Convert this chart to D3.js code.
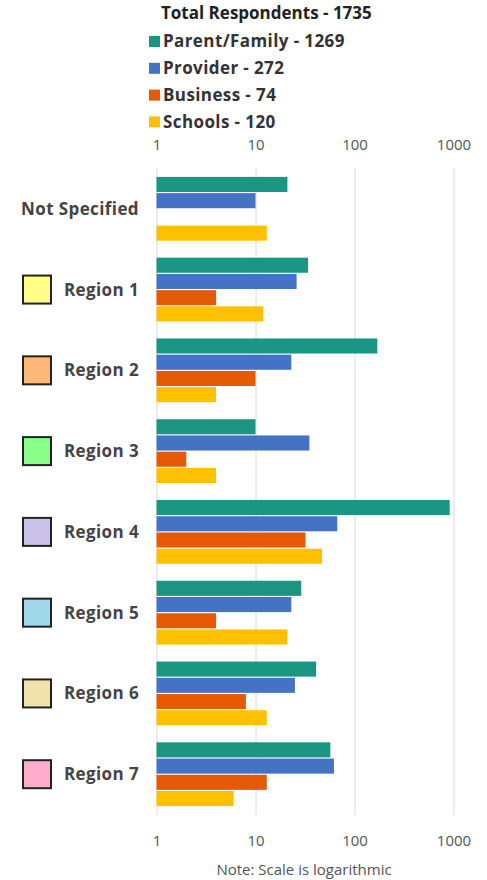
<!DOCTYPE html>
<html>
<head>
<meta charset="utf-8">
<script src="https://cdn.jsdelivr.net/npm/d3@7"></script>
<style>
    body { margin: 0; background: #fff; }
    svg text { font-family: "Open Sans", sans-serif; }
</style>
</head>
<body>
<div id="chart"></div>
<script>
// data (log scale, 1 = no bar)
var groups = ["Not Specified", "Region 1", "Region 2", "Region 3", "Region 4", "Region 5", "Region 6", "Region 7"];
var series = ["Parent/Family", "Provider", "Business", "Schools"];
var seriesTotals = [1269, 272, 74, 120];
var parentFamily = [21, 34, 170, 10, 915, 29, 41, 57];
var provider = [10, 26, 23, 35, 67, 23, 25, 62];
var business = [1, 4, 10, 2, 32, 4, 8, 13];
var schools = [13, 12, 4, 4, 47, 21, 13, 6];
var regionColors = [null, "#ffff88", "#ffb877", "#88ff88", "#cac2e8", "#a2d9ea", "#efe2ad", "#ffadcb"];
var tickValues = [1, 10, 100, 1000];
var totalLabel = "Total Respondents - 1735";
var noteLabel = "Note: Scale is logarithmic";

var seriesColors = ["#1a9682", "#4472c4", "#e65a06", "#ffc000"];
var values = [parentFamily, provider, business, schools];

var width = 487, height = 880;
var margin = {top: 168, right: 33, bottom: 65, left: 156.5};

var svg = d3.select("#chart").append("svg")
    .attr("width", width)
    .attr("height", height);

// log x scale
var x = d3.scaleLog()
    .domain([1, 1000])
    .range([margin.left, margin.left + 297]);

var y = d3.scaleBand()
    .domain(groups)
    .range([margin.top, height - margin.bottom])
    .paddingInner(0.21)
    .paddingOuter(0.11);

var ySub = d3.scaleBand()
    .domain(series)
    .range([0, y.bandwidth()])
    .paddingInner(0.07);

// gridlines
svg.append("g")
    .attr("class", "grid")
    .attr("transform", "translate(0," + margin.top + ")")
    .call(d3.axisBottom(x).tickValues(tickValues).tickSize(height - margin.bottom - margin.top).tickFormat(""))
    .call(function(g) {
        g.select(".domain").remove();
        g.selectAll("line").attr("stroke", "#dcdcdc").attr("stroke-width", 1);
    });

// top and bottom tick labels
function styleAxis(g) {
    g.select(".domain").remove();
    g.selectAll("line").remove();
    g.selectAll("text")
        .attr("fill", "#555")
        .style("font-size", "15px")
        .style("font-family", "'Open Sans', sans-serif");
}

svg.append("g")
    .attr("transform", "translate(0,153)")
    .call(d3.axisTop(x).tickValues(tickValues).tickSize(0).tickFormat(d3.format("d")))
    .call(styleAxis);

svg.append("g")
    .attr("transform", "translate(0,832)")
    .call(d3.axisBottom(x).tickValues(tickValues).tickSize(0).tickFormat(d3.format("d")))
    .call(styleAxis);

// bars
var rows = groups.map(function(g, i) {
    return {group: g, vals: series.map(function(s, j) { return {series: s, idx: j, v: values[j][i]}; })};
});

var gRow = svg.selectAll(".row")
    .data(rows)
    .enter().append("g")
    .attr("class", "row")
    .attr("transform", function(d) { return "translate(0," + y(d.group) + ")"; });

gRow.selectAll("rect")
    .data(function(d) { return d.vals; })
    .enter().append("rect")
    .attr("x", x(1))
    .attr("y", function(d) { return ySub(d.series); })
    .attr("height", ySub.bandwidth())
    .attr("width", function(d) { return x(d.v) - x(1); })
    .attr("fill", function(d) { return seriesColors[d.idx]; });

// row labels
gRow.append("text")
    .attr("x", 139)
    .attr("y", y.bandwidth() / 2)
    .attr("dy", "0.35em")
    .attr("text-anchor", "end")
    .attr("fill", "#444")
    .style("font-size", "17px")
    .style("font-weight", "700")
    .style("letter-spacing", "0.4px")
    .text(function(d) { return d.group; });

gRow.filter(function(d, i) { return regionColors[i]; })
    .append("rect")
    .attr("x", 23)
    .attr("y", y.bandwidth() / 2 - 14)
    .attr("width", 28)
    .attr("height", 28)
    .attr("fill", function(d) { return regionColors[groups.indexOf(d.group)]; })
    .attr("stroke", "#222")
    .attr("stroke-width", 2);

// legend
svg.append("text")
    .attr("x", 161)
    .attr("y", 13)
    .attr("dy", "0.35em")
    .attr("fill", "#222")
    .style("font-size", "17px")
    .style("font-weight", "700")
    .text(totalLabel);

var legend = svg.selectAll(".legend")
    .data(series)
    .enter().append("g")
    .attr("class", "legend")
    .attr("transform", function(d, i) { return "translate(149," + (41.5 + i * 26.8) + ")"; });

legend.append("rect")
    .attr("x", 0)
    .attr("y", -5.5)
    .attr("width", 11)
    .attr("height", 11)
    .attr("fill", function(d, i) { return seriesColors[i]; });

legend.append("text")
    .attr("x", 14)
    .attr("dy", "0.35em")
    .attr("fill", "#333")
    .style("font-size", "17px")
    .style("font-weight", "700")
    .style("letter-spacing", "0.4px")
    .text(function(d, i) { return d + " - " + seriesTotals[i]; });

// note
svg.append("text")
    .attr("x", 304)
    .attr("y", 870)
    .attr("dy", "0.35em")
    .attr("text-anchor", "middle")
    .attr("fill", "#555")
    .style("font-size", "15px")
    .text(noteLabel);
</script>
</body>
</html>
